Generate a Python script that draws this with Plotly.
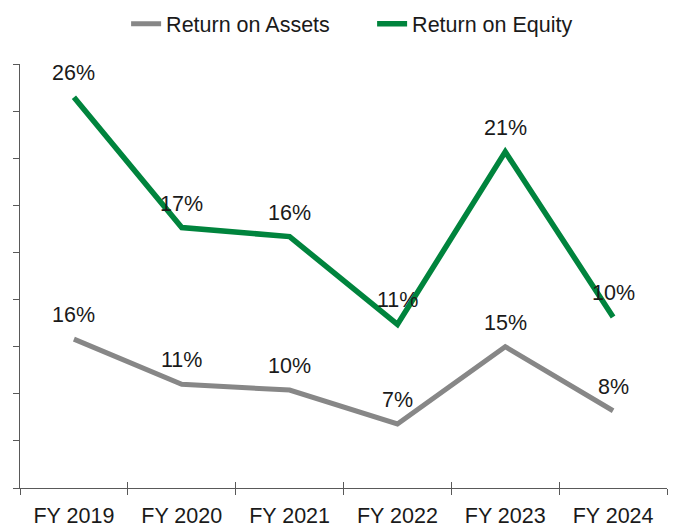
import plotly.graph_objects as go

categories = ["FY 2019", "FY 2020", "FY 2021", "FY 2022", "FY 2023", "FY 2024"]
roa_values = [0.158, 0.110, 0.104, 0.068, 0.150, 0.082]
roa_labels = ["16%", "11%", "10%", "7%", "15%", "8%"]
roe_values = [0.258, 0.172, 0.166, 0.108, 0.222, 0.113]
roe_labels = ["26%", "17%", "16%", "11%", "21%", "10%"]

GRAY = "#878787"
GREEN = "#00843D"
AXIS = "#595959"
TEXT = "#1a1a1a"
FONT = "Liberation Sans, Arial, sans-serif"
FS = 21.5

fig = go.Figure()
fig.add_trace(go.Scatter(
    x=categories, y=roa_values, name="Return on Assets", mode="lines",
    line=dict(color=GRAY, width=5), xaxis="x", yaxis="y", hoverinfo="skip",
))
fig.add_trace(go.Scatter(
    x=categories, y=roe_values, name="Return on Equity", mode="lines",
    line=dict(color=GREEN, width=5.5), xaxis="x2", yaxis="y2", hoverinfo="skip",
))

annotations = []
for c, v, t in zip(categories, roa_values, roa_labels):
    annotations.append(dict(x=c, y=v, xref="x", yref="y", text=t, showarrow=False,
                            yshift=24, font=dict(size=FS, color=TEXT, family=FONT)))
for c, v, t in zip(categories, roe_values, roe_labels):
    annotations.append(dict(x=c, y=v, xref="x2", yref="y2", text=t, showarrow=False,
                            yshift=24, font=dict(size=FS, color=TEXT, family=FONT)))

fig.update_layout(
    width=670, height=519,
    margin=dict(l=12, r=11, t=56, b=39, autoexpand=False),
    paper_bgcolor="white", plot_bgcolor="white",
    font=dict(family=FONT, size=FS, color=TEXT),
    showlegend=True,
    legend=dict(orientation="h", x=0.164, xanchor="left", y=1.095, yanchor="middle",
                font=dict(size=FS, color=TEXT), entrywidth=201, entrywidthmode="pixels",
                bgcolor="rgba(0,0,0,0)"),
    annotations=annotations,
    xaxis=dict(type="category", categoryarray=categories, range=[-0.5, 5.5],
               showline=True, linecolor=AXIS, linewidth=1, showgrid=False, zeroline=False,
               ticks="outside", ticklen=6, tickcolor=AXIS, tickwidth=1,
               tickson="boundaries", ticklabelstandoff=8,
               tickfont=dict(size=FS, color=TEXT, family=FONT)),
    xaxis2=dict(type="category", categoryarray=categories, range=[-0.5, 5.5],
                overlaying="x", anchor="y", side="bottom",
                showline=False, showgrid=False, zeroline=False,
                ticks="inside", ticklen=6, tickcolor=AXIS, tickwidth=1,
                tickson="boundaries", showticklabels=False),
    yaxis=dict(range=[0, 0.45], dtick=0.05, tick0=0, showticklabels=False,
               showline=True, linecolor=AXIS, linewidth=1, showgrid=False, zeroline=False,
               ticks="outside", ticklen=6, tickcolor=AXIS, tickwidth=1),
    yaxis2=dict(range=[0, 0.28], overlaying="y", anchor="x", side="right",
                visible=False, showgrid=False, zeroline=False),
)

fig.write_html("out.html")
